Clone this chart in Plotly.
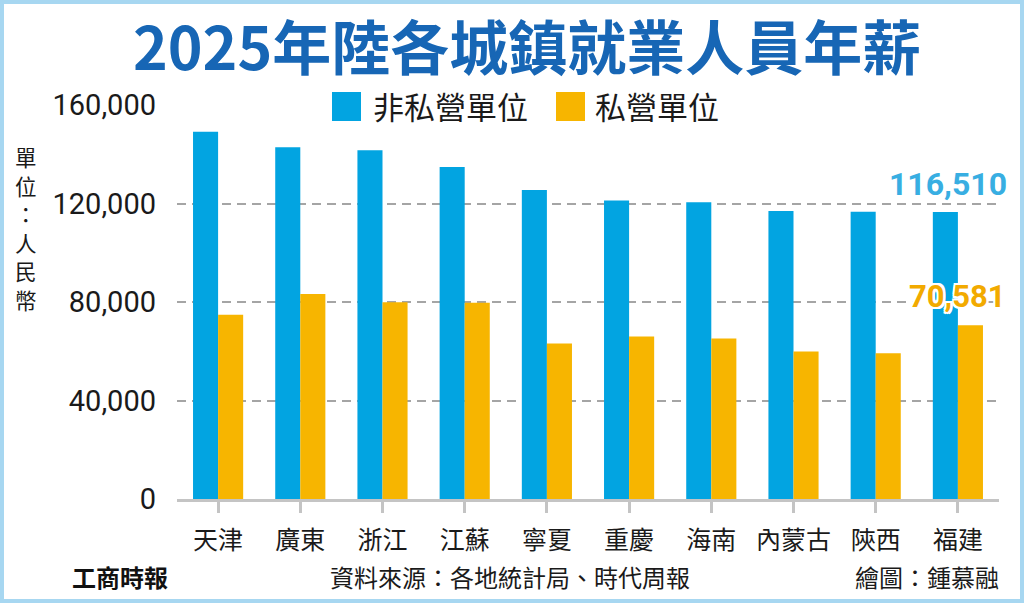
import plotly.graph_objects as go

cities = ["天津", "廣東", "浙江", "江蘇", "寧夏", "重慶", "海南", "內蒙古", "陝西", "福建"]
non_private = [149100, 142800, 141600, 134800, 125500, 121200, 120500, 117000, 116600, 116510]
private = [74800, 83200, 79900, 79700, 63100, 66000, 65200, 59900, 59200, 70581]
series_names = ["非私營單位", "私營單位"]
y_ticks = [0, 40000, 80000, 120000, 160000]

BLUE = "#02A4E1"
ORANGE = "#F7B500"
CJK = "Noto Sans CJK TC"

W, H = 1024, 603
ML, MR, MT, MB = 177, 25, 105, 104
PW, PH = W - ML - MR, H - MT - MB


def px(x):
    return (x - ML) / PW


def py(y):
    return (H - MB - y) / PH


fig = go.Figure()
fig.add_bar(x=cities, y=non_private, name=series_names[0], marker_color=BLUE,
            marker_line_width=0, showlegend=False)
fig.add_bar(x=cities, y=private, name=series_names[1], marker_color=ORANGE,
            marker_line_width=0, showlegend=False)

fig.update_layout(
    width=W, height=H,
    margin=dict(l=ML, r=MR, t=MT, b=MB, pad=0, autoexpand=False),
    paper_bgcolor="white", plot_bgcolor="white",
    barmode="group", bargap=0.39, bargroupgap=0,
    showlegend=False,
    font=dict(family=CJK, color="#1a1a1a"),
)
fig.update_xaxes(
    range=[-0.5, len(cities) - 0.5], autorange=False, automargin=False,
    showgrid=False, showline=True, linecolor="#C4C4C4", linewidth=3,
    ticks="outside", ticklen=11, tickwidth=3, tickcolor="#C4C4C4",
    tickfont=dict(family=CJK, size=25, color="#1a1a1a"),
    ticklabelstandoff=6,
)
fig.update_yaxes(
    range=[0, 160000], autorange=False, automargin=False,
    tickvals=y_ticks, tickformat=",d",
    showgrid=True, gridcolor="#A5A5A5", gridwidth=1.5, griddash="9px,6px",
    zeroline=False, showline=False, ticks="",
    tickfont=dict(family="Roboto", size=29, color="#1a1a1a"),
    ticklabelstandoff=20,
)

shapes = []
# outer light-blue frame
shapes.append(dict(type="rect", xref="paper", yref="paper",
                   x0=px(2), x1=px(1022), y0=py(601), y1=py(2),
                   line=dict(color="#A7D7F1", width=4), fillcolor="rgba(0,0,0,0)",
                   layer="above"))
# legend background and swatches
shapes.append(dict(type="rect", xref="paper", yref="paper",
                   x0=px(322), x1=px(731), y0=py(122), y1=py(90),
                   line=dict(width=0), fillcolor="white", layer="above"))
shapes.append(dict(type="rect", xref="paper", yref="paper",
                   x0=px(332), x1=px(361), y0=py(121), y1=py(92),
                   line=dict(width=0), fillcolor=BLUE, layer="above"))
shapes.append(dict(type="rect", xref="paper", yref="paper",
                   x0=px(556), x1=px(585), y0=py(121), y1=py(92),
                   line=dict(width=0), fillcolor=ORANGE, layer="above"))
fig.update_layout(shapes=shapes)

ann = []
# title
ann.append(dict(xref="paper", yref="paper", x=px(527), y=py(45),
                text="2025年陸各城鎮就業人員年薪", showarrow=False,
                xanchor="center", yanchor="middle",
                font=dict(family=CJK, size=59, color="#1766B5", weight="bold")))
# legend labels
ann.append(dict(xref="paper", yref="paper", x=px(371), y=py(106),
                text=series_names[0], showarrow=False, xanchor="left", yanchor="middle",
                font=dict(family=CJK, size=31, color="#1a1a1a")))
ann.append(dict(xref="paper", yref="paper", x=px(593), y=py(106),
                text=series_names[1], showarrow=False, xanchor="left", yanchor="middle",
                font=dict(family=CJK, size=31, color="#1a1a1a")))
# vertical y-axis unit label (one character per line)
unit_chars = ["單", "位", "：", "人", "民", "幣"]
for i, ch in enumerate(unit_chars):
    ann.append(dict(xref="paper", yref="paper", x=px(26), y=py(157 + 28.4 * i),
                    text=ch, showarrow=False, xanchor="center", yanchor="middle",
                    font=dict(family=CJK, size=21.5, color="#1a1a1a")))
# value labels for last category
last = cities[-1]
ann.append(dict(xref="x", yref="y", x=last, y=non_private[-1],
                text=f"{non_private[-1]:,}", showarrow=False,
                xanchor="center", yanchor="middle", xshift=-10, yshift=28,
                font=dict(family="Roboto", size=32, color="#38AEE2", weight="bold")))
halo = ",".join(f"{dx}px {dy}px 0 #fff" for dx, dy in
                [(2, 0), (-2, 0), (0, 2), (0, -2), (2, 2), (-2, -2), (2, -2), (-2, 2)])
ann.append(dict(xref="x", yref="y", x=last, y=private[-1],
                text=f"{private[-1]:,}", showarrow=False,
                xanchor="center", yanchor="middle", xshift=0, yshift=29,
                font=dict(family="Roboto", size=31, color="#F2AA00", weight="bold",
                          shadow=halo)))
# footer
ann.append(dict(xref="paper", yref="paper", x=px(70), y=py(576),
                text="工商時報", showarrow=False, xanchor="left", yanchor="middle",
                font=dict(family=CJK, size=24, color="#111", weight="bold")))
ann.append(dict(xref="paper", yref="paper", x=px(510), y=py(576),
                text="資料來源：各地統計局、時代周報", showarrow=False,
                xanchor="center", yanchor="middle",
                font=dict(family=CJK, size=24, color="#1a1a1a")))
ann.append(dict(xref="paper", yref="paper", x=px(1001), y=py(576),
                text="繪圖：鍾慕融", showarrow=False, xanchor="right", yanchor="middle",
                font=dict(family=CJK, size=24, color="#1a1a1a")))
fig.update_layout(annotations=ann)

fig.write_html("out.html")
